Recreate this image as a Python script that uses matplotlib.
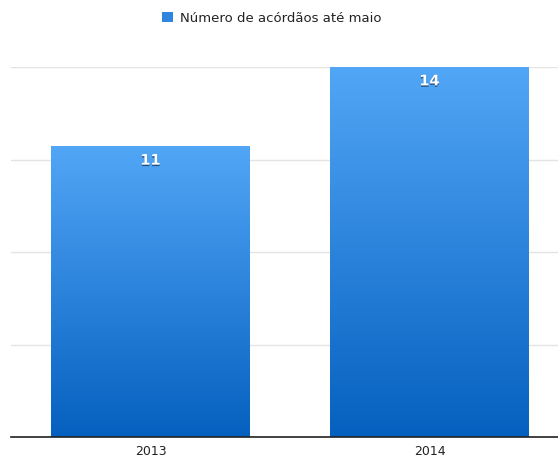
import numpy as np
import matplotlib.pyplot as plt
import matplotlib.patheffects as pe
from matplotlib.colors import LinearSegmentedColormap
from matplotlib.patches import Patch

anos = ["2013", "2014"]
acordaos = [11, 14]
serie = "Número de acórdãos até maio"

fig = plt.figure(figsize=(5.58, 4.59), dpi=100)
# a área do gráfico passa um pouco da borda direita
ax = fig.add_axes([11 / 558, 22 / 459, 558 / 558, 370 / 459])

x = np.arange(len(anos))
bars = ax.bar(x, acordaos, width=0.713, color="#2f86de", zorder=2)

# degradê vertical em cada barra (claro em cima, escuro em baixo)
cmap = LinearSegmentedColormap.from_list("azul", ["#0560bf", "#52a6f6"])
grad = np.linspace(0, 1, 256).reshape(-1, 1)
for b in bars:
    x0, y0 = b.get_x(), b.get_y()
    im = ax.imshow(grad, cmap=cmap, origin="lower", aspect="auto",
                   extent=[x0, x0 + b.get_width(), y0, y0 + b.get_height()],
                   zorder=3)
    im.set_clip_path(b)
    b.set_facecolor("none")

for xi, v in zip(x, acordaos):
    ax.annotate(str(v), (xi, v), xytext=(0, -10), textcoords="offset points",
                ha="center", va="center", color="white", fontsize=10.5,
                fontweight="bold", zorder=4,
                path_effects=[pe.withSimplePatchShadow(offset=(0, -1), shadow_rgbFace="#1a3a60", alpha=0.8)])

ax.set_xlim(-0.5, len(anos) - 0.5)
ax.set_ylim(0, 14)
ax.set_yticks([0, 3.5, 7, 10.5, 14])
ax.yaxis.grid(True, color="#e4e4e4", linewidth=1)
ax.set_axisbelow(True)
ax.tick_params(axis="y", left=False, labelleft=False)
ax.tick_params(axis="x", length=0, pad=6, labelsize=9, labelcolor="#222222")
ax.set_xticks(x)
ax.set_xticklabels(anos)
for s in ["top", "right", "left"]:
    ax.spines[s].set_visible(False)
ax.spines["bottom"].set_color("#222222")
ax.spines["bottom"].set_linewidth(1.2)
ax.spines["bottom"].set_zorder(5)

fig.legend(handles=[Patch(facecolor="#2f86de", label=serie)],
           loc="center", bbox_to_anchor=(272 / 558, 1 - 18 / 459),
           frameon=False, fontsize=9.5, handlelength=0.8, handleheight=0.8,
           handletextpad=0.6, labelcolor="#222222")

fig.savefig("out.png", dpi=100)
